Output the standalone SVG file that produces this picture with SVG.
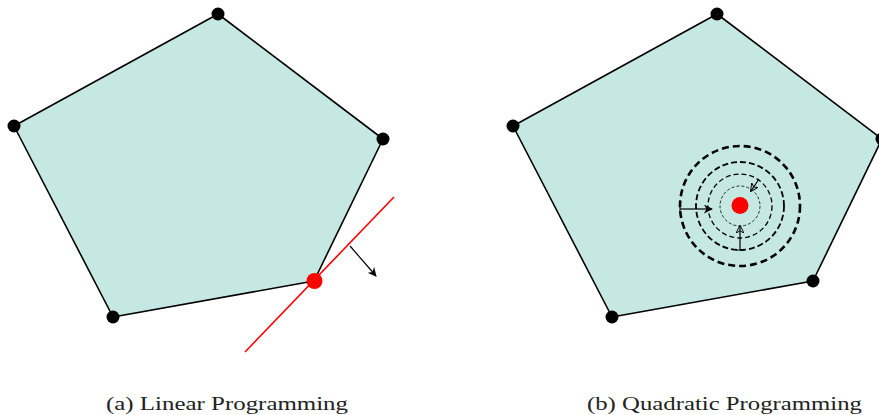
<svg xmlns="http://www.w3.org/2000/svg" width="879" height="415" viewBox="0 0 879 415">
<defs>
<marker id="ah" viewBox="0 0 10 10" refX="9" refY="5" markerWidth="9" markerHeight="9" markerUnits="userSpaceOnUse" orient="auto">
<path d="M0,0 L10,5 L0,10 L3,5 Z" fill="#000"/>
</marker>
<marker id="ahs" viewBox="0 0 10 10" refX="9" refY="5" markerWidth="8" markerHeight="8" markerUnits="userSpaceOnUse" orient="auto">
<path d="M0,0 L10,5 L0,10 L3,5 Z" fill="none" stroke="#000" stroke-width="1.2"/>
</marker>
</defs>
<style>
.poly{fill:#c5e8e2;stroke:#000;stroke-width:1.6;stroke-linejoin:round}
.v{fill:#000}
.red{fill:#ff0000}
.cap{font-family:"Liberation Serif","DejaVu Serif",serif;font-size:18px;fill:#222;text-anchor:middle}
.c{fill:none;stroke:#000}
.arr{stroke:#000;stroke-width:1.2;fill:none}
</style>
<g id="lp">
<polygon class="poly" points="218,14 383,139 314,281 113,317 14,126"/>
<circle class="v" cx="218" cy="14" r="6.5"/>
<circle class="v" cx="383" cy="139" r="6.5"/>
<circle class="v" cx="113" cy="317" r="6.5"/>
<circle class="v" cx="14" cy="126" r="6.5"/>
</g>
<g id="qp">
<polygon class="poly" points="717,14 882,139 813,281 612,317 513,126"/>
<circle class="v" cx="717" cy="14" r="6.5"/>
<circle class="v" cx="882" cy="139" r="6.5"/>
<circle class="v" cx="813" cy="281" r="6.5"/>
<circle class="v" cx="612" cy="317" r="6.5"/>
<circle class="v" cx="513" cy="126" r="6.5"/>
</g>
<g id="connectors">
<line x1="245" y1="352" x2="394" y2="197" stroke="#ff0000" stroke-width="1.6"/>
<line class="arr" x1="350" y1="246" x2="376" y2="276" marker-end="url(#ah)"/>
<circle class="c" cx="740" cy="206" r="20" stroke-width="0.8" stroke-dasharray="3,2"/>
<circle class="c" cx="740" cy="206" r="32" stroke-width="1.3" stroke-dasharray="5,3"/>
<circle class="c" cx="740" cy="206" r="44" stroke-width="1.8" stroke-dasharray="6,3"/>
<circle class="c" cx="740" cy="206" r="60" stroke-width="2.6" stroke-dasharray="7,4"/>
<line class="arr" x1="680" y1="209" x2="712" y2="209" marker-end="url(#ah)"/>
<line x1="680" y1="205" x2="680" y2="213" stroke="#000" stroke-width="1"/>
<line class="arr" x1="740" y1="250" x2="740" y2="226" marker-end="url(#ahs)"/>
<line x1="736" y1="250" x2="744" y2="250" stroke="#000" stroke-width="1"/>
<line class="arr" x1="759" y1="179" x2="751" y2="191" marker-end="url(#ahs)"/>
</g>
<g id="optima">
<circle class="red" cx="314.5" cy="281" r="8"/>
<circle class="red" cx="740" cy="205.5" r="8.5"/>
</g>
<text class="cap" x="227" y="410" textLength="242" lengthAdjust="spacingAndGlyphs">(a) Linear Programming</text>
<text class="cap" x="724.5" y="410" textLength="275" lengthAdjust="spacingAndGlyphs">(b) Quadratic Programming</text>
</svg>
